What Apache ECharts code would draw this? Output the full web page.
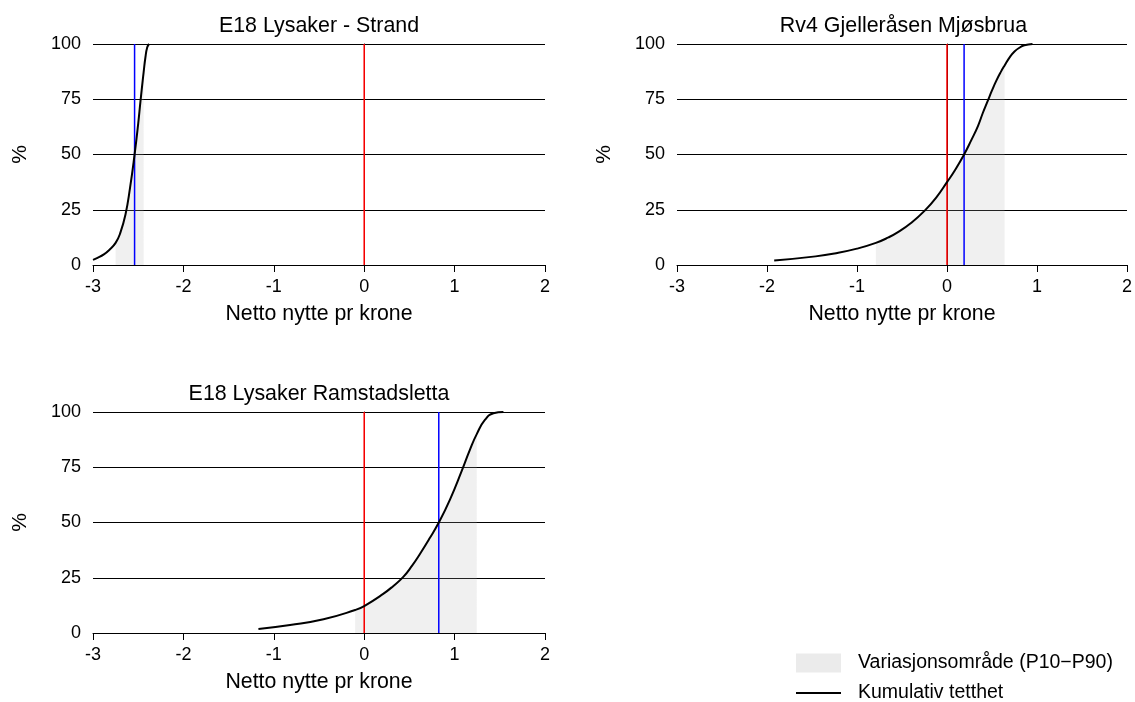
<!DOCTYPE html>
<html>
<head>
<meta charset="utf-8">
<script src="https://cdn.jsdelivr.net/npm/echarts@6/dist/echarts.min.js"></script>
<style>
html,body{margin:0;padding:0;background:#fff;}
#chart{width:1135px;height:702px;}
</style>
</head>
<body>
<div id="chart"></div>
<script>
// ---- Data ----
const panelTitles = ['E18 Lysaker - Strand', 'Rv4 Gjelleråsen Mjøsbrua', 'E18 Lysaker Ramstadsletta'];
const xTickValues = [-3, -2, -1, 0, 1, 2];
const yTickValues = [0, 25, 50, 75, 100];
const xAxisName = 'Netto nytte pr krone';
const yAxisName = '%';
const legendShade = 'Variasjonsområde (P10−P90)';
const legendCurve = 'Kumulativ tetthet';

// Panel 1: E18 Lysaker - Strand
const strandX = [-3.00, -2.95, -2.88, -2.82, -2.75, -2.70, -2.64, -2.59, -2.54, -2.50, -2.475, -2.45, -2.44, -2.42, -2.40, -2.38];
const strandY = [2.3, 3.2, 4.8, 6.8, 10, 14.3, 23, 35, 50, 64, 74, 83.5, 87.2, 94, 98.5, 100];
const strandP10 = -2.75, strandP90 = -2.44, strandMedian = -2.54;

// Panel 2: Rv4 Gjelleråsen Mjøsbrua
const rv4X = [-1.92, -1.46, -1.25, -1.0, -0.79, -0.65, -0.54, -0.40, -0.25, -0.12, 0.0, 0.09, 0.19, 0.27, 0.345, 0.40, 0.455, 0.50, 0.547, 0.60, 0.64, 0.70, 0.75, 0.80, 0.86, 0.95];
const rv4Y = [2.0, 3.9, 5.2, 7.4, 10, 12.5, 15, 19, 24.5, 30.5, 37.5, 43, 50, 56.5, 63, 69, 74.5, 79, 83.3, 87.5, 90.3, 94.2, 96.6, 98.2, 99.4, 100];
const rv4P10 = -0.79, rv4P90 = 0.64, rv4Median = 0.19;

// Panel 3: E18 Lysaker Ramstadsletta
const ramX = [-1.17, -0.82, -0.45, -0.10, 0.0, 0.21, 0.32, 0.435, 0.53, 0.62, 0.72, 0.825, 0.95, 1.08, 1.17, 1.245, 1.337, 1.43, 1.54];
const ramY = [1.8, 3.6, 6.2, 10.4, 12.2, 17.7, 21.2, 25.5, 30.5, 36, 42.6, 50, 60.5, 73.5, 83, 90, 96.5, 99.4, 100];
const ramP10 = -0.10, ramP90 = 1.245, ramMedian = 0.825;

const panels = [
  {xs: strandX, ys: strandY, p10: strandP10, p90: strandP90, med: strandMedian},
  {xs: rv4X, ys: rv4Y, p10: rv4P10, p90: rv4P90, med: rv4Median},
  {xs: ramX, ys: ramY, p10: ramP10, p90: ramP90, med: ramMedian}
];

// ---- Layout ----
const FONT = '"Liberation Sans", Arial, Helvetica, sans-serif';
const gridBoxes = [
  {left: 93, top: 44, width: 452, height: 221},
  {left: 677, top: 44, width: 453, height: 221},
  {left: 93, top: 412, width: 452, height: 221}
];

const grids = [], xAxes = [], yAxes = [], titles = [], series = [];
panels.forEach((p, i) => {
  const g = gridBoxes[i];
  grids.push(Object.assign({containLabel: false}, g));
  titles.push({
    text: panelTitles[i],
    left: g.left + g.width / 2,
    top: g.top - 28,
    textAlign: 'center',
    padding: 0,
    textStyle: {fontFamily: FONT, fontSize: 21.4, fontWeight: 'normal', color: '#000'}
  });
  xAxes.push({
    type: 'value', gridIndex: i,
    min: xTickValues[0], max: xTickValues[xTickValues.length - 1], interval: 1,
    name: xAxisName, nameLocation: 'middle', nameGap: 39,
    nameTextStyle: {fontFamily: FONT, fontSize: 21.3, color: '#000'},
    axisLine: {show: true, onZero: false, lineStyle: {color: '#000', width: 1}},
    axisTick: {show: true, inside: false, length: 7, lineStyle: {color: '#000', width: 1}},
    axisLabel: {fontFamily: FONT, fontSize: 18, color: '#000', margin: 13},
    splitLine: {show: false}
  });
  yAxes.push({
    type: 'value', gridIndex: i,
    min: yTickValues[0], max: yTickValues[yTickValues.length - 1], interval: 25,
    name: yAxisName, nameLocation: 'middle', nameGap: 62, nameRotate: 90,
    nameTextStyle: {fontFamily: FONT, fontSize: 21, color: '#000'},
    axisLine: {show: true, lineStyle: {color: '#000', width: 1}},
    axisTick: {show: true, inside: false, length: 7, lineStyle: {color: '#000', width: 1}},
    axisLabel: {fontFamily: FONT, fontSize: 18, color: '#000', margin: 12},
    splitLine: {show: true, lineStyle: {color: '#000', width: 1}}
  });
  const curve = p.xs.map((x, k) => [x, p.ys[k]]);
  const shade = curve.filter(d => d[0] >= p.p10 - 1e-9 && d[0] <= p.p90 + 1e-9);
  series.push({
    name: legendShade, type: 'line', xAxisIndex: i, yAxisIndex: i,
    data: shade, smooth: 0.5, symbol: 'none',
    lineStyle: {width: 0, color: '#ebebeb'}, itemStyle: {color: '#ebebeb'},
    areaStyle: {color: 'rgba(180,180,180,0.28)', origin: 'start'},
    silent: true, z: 1
  });
  series.push({
    name: 'zero' + i, type: 'line', xAxisIndex: i, yAxisIndex: i,
    data: [[0, 0], [0, 100]], symbol: 'none',
    lineStyle: {color: '#ff0000', width: 1.5}, silent: true, z: 2
  });
  series.push({
    name: 'median' + i, type: 'line', xAxisIndex: i, yAxisIndex: i,
    data: [[p.med, 0], [p.med, 100]], symbol: 'none',
    lineStyle: {color: '#0000ff', width: 1.5}, silent: true, z: 2
  });
  series.push({
    name: legendCurve, type: 'line', xAxisIndex: i, yAxisIndex: i,
    data: curve, smooth: 0.5, symbol: 'none',
    lineStyle: {color: '#000', width: 2}, itemStyle: {color: '#000'},
    silent: true, z: 3
  });
});

const chart = echarts.init(document.getElementById('chart'), null, {renderer: 'canvas'});
chart.setOption({
  backgroundColor: '#fff',
  animation: false,
  title: titles,
  grid: grids,
  xAxis: xAxes,
  yAxis: yAxes,
  legend: [
    {
      data: [{name: legendShade, icon: 'rect', itemStyle: {color: '#ebebeb', borderWidth: 0}}],
      left: 796, top: 653, padding: 0, itemWidth: 45, itemHeight: 19,
      selectedMode: false,
      textStyle: {fontFamily: FONT, fontSize: 19.5, color: '#000', padding: [0, 0, 0, 12]}
    },
    {
      data: [{name: legendCurve, icon: 'rect', itemStyle: {color: '#000', borderWidth: 0}}],
      left: 796, top: 683, padding: 0, itemWidth: 45, itemHeight: 2,
      selectedMode: false,
      textStyle: {fontFamily: FONT, fontSize: 19.5, color: '#000', padding: [0, 0, 0, 12]}
    }
  ],
  series: series
});
</script>
</body>
</html>
